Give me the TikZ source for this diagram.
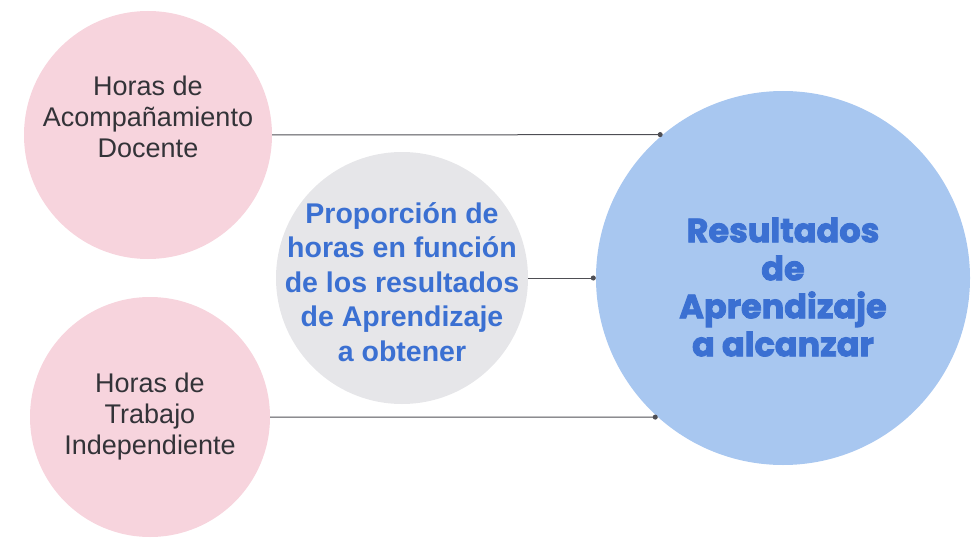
\documentclass[tikz,border=0pt]{standalone}
\usepackage{fontspec}
\setmainfont{Liberation Sans}
\newfontfamily\popfont{Poppins}[BoldFeatures={FakeBold=2.5}]
\usepackage{tikz}
\usetikzlibrary{arrows.meta}

\definecolor{pinkfill}{HTML}{F7D4DD}
\definecolor{grayfill}{HTML}{E6E6E9}
\definecolor{bluefill}{HTML}{A8C7F0}
\definecolor{bluetext}{HTML}{3B70D2}
\definecolor{darktext}{HTML}{333338}
\definecolor{linegray}{HTML}{4E4E54}

\begin{document}
\begin{tikzpicture}[x=1pt, y=-1pt,
	main node/.style={circle, inner sep=0pt},
	pink node/.style={main node, fill=pinkfill},
	hours text/.style={align=center, text=darktext, font=\fontsize{27}{31}\selectfont},
	ratio text/.style={align=center, text=bluetext, font=\fontsize{28.5}{34.5}\selectfont\bfseries},
	result text/.style={align=center, text=bluetext, font=\popfont\fontsize{33.5}{38}\selectfont\bfseries},
	link/.style={draw=linegray, line width=1pt, -{Circle[length=5pt]}}]
	
	\useasboundingbox (0,0) rectangle (976,540);
	
	\node[pink node, minimum size=248pt] (hd) at (148,135) {};
	\node[pink node, minimum size=240pt] (ht) at (150,417) {};
	\node[main node, fill=grayfill, minimum size=252pt] (pr) at (402,278) {};
	\node[main node, fill=bluefill, minimum size=374pt] (ra) at (783,278) {};
	
	\node[hours text] (hdtext) at ([yshift=18pt]hd.center) {Horas de\\Acompañamiento\\Docente};
	\node[hours text] (httext) at (ht.center) {Horas de\\Trabajo\\Independiente};
	\node[ratio text] (prtext) at ([yshift=-4pt]pr.center) {Proporción de\\horas en función\\de los resultados\\de Aprendizaje\\a obtener};
	\node[result text] (ratext) at ([yshift=-9pt]ra.center) {Resultados\\de\\Aprendizaje\\a alcanzar};
	
	  \path
	   (hd.east) edge[link] (ra.130)
	   (pr) edge[link] (ra)
	   (ht.east) edge[link] (ra.228);
	
\end{tikzpicture}
\end{document}
